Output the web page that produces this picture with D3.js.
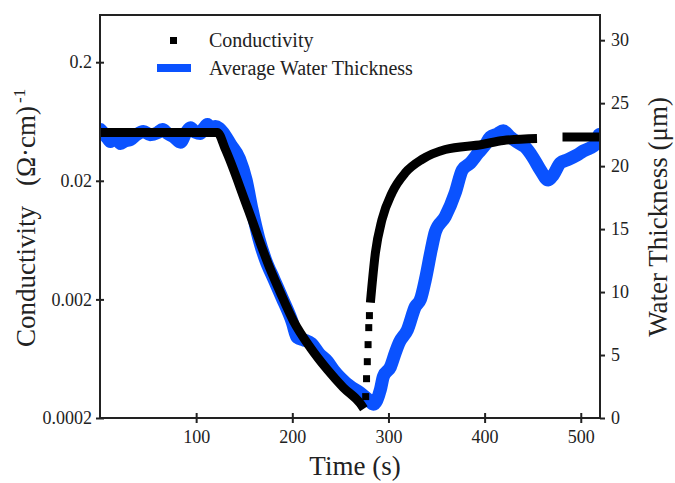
<!DOCTYPE html>
<html>
<head>
<meta charset="utf-8">
<script src="https://cdn.jsdelivr.net/npm/d3@7"></script>
<style>
  body { margin: 0; background: #fff; }
  svg { display: block; font-family: "Liberation Serif", "Times New Roman", serif; }
  .axis line { stroke: #222; stroke-width: 2; }
  .axis-label { font-size: 27px; fill: #222; }
  .legend-text { font-size: 20px; fill: #222; }
</style>
</head>
<body>
<div id="chart"></div>
<script>
// conductivity trace (solid part), null = break in the trace
const condTime  = [0, 122, 130.5, 153, 177.2, 187.6, 201.1, 218.8, 236.5, 253.1, 270.8, 274.4,
                   null,
                   281.2, 286.4, 293.3, 303.7, 317.6, 334.9, 359.1, 397.4, 419.4, 454.5,
                   null,
                   481, 520];
const condValue = [0.0511, 0.0511, 0.0367, 0.0121, 0.00357, 0.00228, 0.00132, 0.000784, 0.000511, 0.000361, 0.000264, 0.000239,
                   null,
                   0.00188, 0.00493, 0.00943, 0.01584, 0.0234, 0.0303, 0.0367, 0.0405, 0.0438, 0.0455,
                   null,
                   0.0467, 0.0467];

// sparse conductivity points during the fast recovery
const condDotTime  = [276.3, 277.2, 278.0, 278.8, 279.5, 280.2];
const condDotValue = [0.000303, 0.000429, 0.000597, 0.000831, 0.001156, 0.00146];

// average water thickness (um)
const waterTime  = [0.5, 4, 8, 10.9, 16, 21.3, 26, 31.7, 38, 45.2, 52, 59.8, 65, 70.2, 77, 83.7, 89, 94.1, 99,
                    104.5, 108, 111.8, 116, 120.1, 124,
                    128.2, 136, 145, 152, 158, 165, 172, 181, 189, 200, 205, 212, 220, 228,
                    236.5, 243, 250, 260.3, 270.7, 279, 284.3, 291.6, 294.7, 302, 307.2, 311.3, 319.7,
                    328, 333.2, 338.4, 344.6, 348.8, 359.1, 369.5, 376.8, 385.1, 393.4, 400.7, 405.9,
                    413.2, 419.4, 426.7, 434, 442.3, 450.6, 457.9, 466.2, 471.4, 478.7, 486, 496.4,
                    502.6, 509.9, 515, 519];
const waterValue = [22.9, 22.6, 22.2, 21.95, 22.3, 21.8, 22.0, 22.1, 22.5, 22.75, 22.5, 22.65, 22.9, 22.6, 22.3, 21.9, 22.6, 23.05, 22.7,
                    22.6, 23.0, 23.3, 22.9, 23.15, 23.0,
                    22.65, 21.7, 20.6, 18.9, 16.6, 14.3, 12.6, 11.0, 9.6, 7.6, 6.4, 6.2, 5.9, 5.1,
                    4.5, 3.8, 3.2, 2.5, 2.0, 1.45, 1.1, 2.25, 3.3, 4.05, 5.2, 6.0, 7.0,
                    8.85, 9.4, 11.0, 13.4, 14.8, 16.0, 17.9, 19.7, 20.25, 21.05, 21.7, 22.3,
                    22.55, 22.8, 22.3, 21.9, 21.5, 20.65, 19.7, 18.9, 19.3, 20.25, 20.5, 20.9,
                    21.2, 21.45, 21.7, 22.5];

const xTicks = [100, 200, 300, 400, 500];
const condTicks = [0.0002, 0.002, 0.02, 0.2];
const condTickLabels = ["0.0002", "0.002", "0.02", "0.2"];
const waterTicks = [0, 5, 10, 15, 20, 25, 30];

const CONSTANTS = {
  WIDTH: 675, HEIGHT: 483,
  LEFT: 100, RIGHT: 600, TOP: 15, BOTTOM: 418
};
const C = CONSTANTS;
const BLACK = "#000";
const BLUE = "#0a52ff";
const SERIF = "'Liberation Serif', 'Times New Roman', serif";

const svg = d3.select("#chart").append("svg")
  .attr("width", C.WIDTH).attr("height", C.HEIGHT);

const xScale = d3.scaleLinear().domain([0, 520]).range([C.LEFT, C.RIGHT]);
const condScale = d3.scaleLog().domain([0.0002, 0.5]).range([C.BOTTOM, C.TOP]);
const waterScale = d3.scaleLinear().domain([0, 32]).range([C.BOTTOM, C.TOP]);

svg.append("clipPath").attr("id", "plot-clip")
  .append("rect")
  .attr("x", C.LEFT).attr("y", C.TOP)
  .attr("width", C.RIGHT - C.LEFT).attr("height", C.BOTTOM - C.TOP);

const plot = svg.append("g").attr("clip-path", "url(#plot-clip)");

// water thickness (right axis)
const waterData = waterTime.map((t, i) => ({ t, v: waterValue[i] }));
plot.append("path")
  .datum(waterData)
  .attr("fill", "none")
  .attr("stroke", BLUE)
  .attr("stroke-width", 13)
  .attr("stroke-linejoin", "round")
  .attr("stroke-linecap", "round")
  .attr("d", d3.line().x(d => xScale(d.t)).y(d => waterScale(d.v)).curve(d3.curveMonotoneX));

// conductivity (left axis)
const condData = condTime.map((t, i) => ({ t, v: condValue[i] }));
plot.append("path")
  .datum(condData)
  .attr("fill", "none")
  .attr("stroke", BLACK)
  .attr("stroke-width", 9)
  .attr("stroke-linejoin", "miter")
  .attr("d", d3.line()
    .defined(d => d.v != null)
    .x(d => xScale(d.t)).y(d => condScale(d.v))
    .curve(d3.curveMonotoneX));

const dotData = condDotTime.map((t, i) => ({ t, v: condDotValue[i] }));
plot.selectAll(".cond-dot")
  .data(dotData)
  .join("rect")
  .attr("class", "cond-dot")
  .attr("x", d => xScale(d.t) - 3.5)
  .attr("y", d => condScale(d.v) - 3.5)
  .attr("width", 7).attr("height", 7)
  .attr("fill", BLACK);

// frame
svg.append("rect")
  .attr("x", C.LEFT).attr("y", C.TOP)
  .attr("width", C.RIGHT - C.LEFT).attr("height", C.BOTTOM - C.TOP)
  .attr("fill", "none").attr("stroke", "#222").attr("stroke-width", 2);

// axes
const xAxis = svg.append("g")
  .attr("class", "axis")
  .attr("transform", `translate(0, ${C.BOTTOM})`)
  .call(d3.axisBottom(xScale).tickValues(xTicks).tickSize(5).tickPadding(7));
xAxis.selectAll(".tick line").attr("y1", -5);

const yAxis = svg.append("g")
  .attr("class", "axis")
  .attr("transform", `translate(${C.LEFT}, 0)`)
  .call(d3.axisLeft(condScale).tickValues(condTicks)
    .tickFormat((d, i) => condTickLabels[i]).tickSize(4).tickPadding(4));
yAxis.selectAll(".tick line").attr("x1", 4);

const yRightAxis = svg.append("g")
  .attr("class", "axis")
  .attr("transform", `translate(${C.RIGHT}, 0)`)
  .call(d3.axisRight(waterScale).tickValues(waterTicks).tickSize(5).tickPadding(6));

svg.selectAll(".axis .domain").remove();
svg.selectAll(".axis")
  .attr("font-family", SERIF)
  .attr("font-size", 18);
svg.selectAll(".axis text").attr("fill", "#222");

// axis labels
svg.append("text")
  .attr("class", "axis-label")
  .attr("x", 355).attr("y", 475)
  .attr("text-anchor", "middle")
  .text("Time (s)");

const leftLabel = svg.append("text")
  .attr("class", "axis-label")
  .attr("transform", "translate(35, 347) rotate(-90)");
leftLabel.append("tspan").text("Conductivity");
leftLabel.append("tspan").attr("dx", 20).text("(Ω·cm)");
leftLabel.append("tspan").attr("dx", 3).attr("dy", -10).attr("font-size", 17).text("-1");

svg.append("text")
  .attr("class", "axis-label")
  .attr("transform", "translate(667, 217) rotate(-90)")
  .attr("text-anchor", "middle")
  .text("Water Thickness (μm)");

// legend
svg.append("rect")
  .attr("x", 170).attr("y", 37).attr("width", 7).attr("height", 7)
  .attr("fill", BLACK);
svg.append("text")
  .attr("class", "legend-text")
  .attr("x", 209).attr("y", 47)
  .text("Conductivity");

svg.append("rect")
  .attr("x", 157).attr("y", 64).attr("width", 34).attr("height", 8)
  .attr("fill", BLUE);
svg.append("text")
  .attr("class", "legend-text")
  .attr("x", 209).attr("y", 75)
  .text("Average Water Thickness");
</script>
</body>
</html>
